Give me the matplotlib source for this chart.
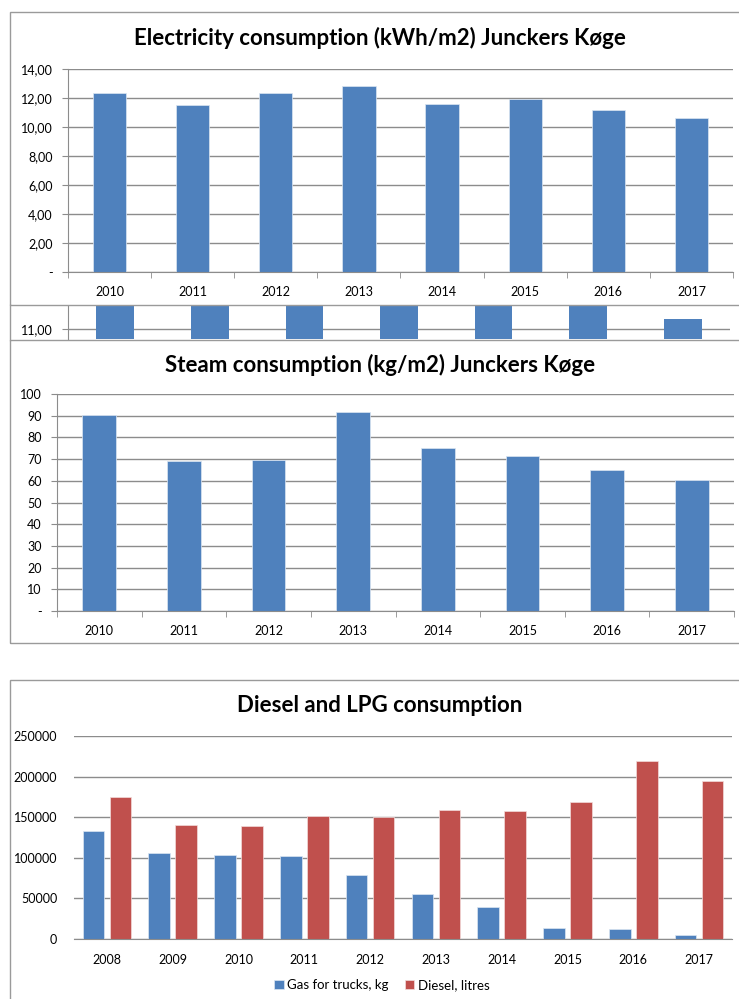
import numpy as np
import matplotlib.pyplot as plt
from matplotlib.patches import Rectangle

plt.rcParams['font.family'] = ['Lato', 'DejaVu Sans']

W, H = 739, 999

# electricity (kWh/m2)
el_years = ["2010", "2011", "2012", "2013", "2014", "2015", "2016", "2017"]
el_values = [12.32, 11.50, 12.32, 12.80, 11.59, 11.93, 11.15, 10.62]

# partly hidden chart behind (only the 11,00 line is visible)
hid_values = [12.30, 11.50, 12.30, 12.80, 11.60, 11.90, 11.10]

# steam (kg/m2)
st_years = ["2010", "2011", "2012", "2013", "2014", "2015", "2016", "2017"]
st_values = [90.3, 68.9, 69.8, 91.8, 75.3, 71.3, 65.2, 60.5]

# diesel and LPG
dl_years = ["2008", "2009", "2010", "2011", "2012", "2013", "2014", "2015", "2016", "2017"]
gas_kg = [133500, 105500, 103500, 102500, 79000, 55700, 39700, 13900, 11800, 4900]
diesel_l = [175000, 140600, 139300, 151300, 150800, 159000, 157800, 169200, 219600, 195000]

blue = "#4f81bd"
red = "#c0504d"
grid = "#8c8c8c"
frame = "#9a9a9a"
fs = 9


def box(left, top, right, bottom):
    return [left / W, 1 - bottom / H, (right - left) / W, (bottom - top) / H]


fig = plt.figure(figsize=(W / 100, H / 100), dpi=100)

# chart frames
for top, bottom in [(12, 305), (340, 643), (680, 1010)]:
    fig.patches.append(Rectangle((10 / W, 1 - bottom / H), 1.0, (bottom - top) / H,
                                 transform=fig.transFigure, fill=False,
                                 edgecolor=frame, linewidth=1.0))
fig.add_artist(plt.Line2D([10 / W, 10 / W], [1 - 305 / H, 1 - 340 / H],
                          transform=fig.transFigure, color=frame, linewidth=1.0))


def style_axes(ax, ylabels_pad):
    for s in ["top", "right"]:
        ax.spines[s].set_visible(False)
    ax.spines["left"].set_color(grid)
    ax.spines["bottom"].set_color(grid)
    ax.yaxis.grid(True, color=grid, linewidth=1.0)
    ax.set_axisbelow(True)
    ax.tick_params(axis="y", colors="black", labelsize=fs, length=4, color=grid, pad=ylabels_pad)
    ax.tick_params(axis="x", labelsize=fs, length=0, pad=8)


# electricity chart
ax1 = fig.add_axes(box(68, 69, 733, 272))
x = np.arange(len(el_years))
ax1.bar(x, el_values, width=0.4, color=blue, edgecolor="#dce6f2", linewidth=0.5)
ax1.set_xlim(-0.5, len(el_years) - 0.5)
ax1.set_ylim(0, 14)
ax1.set_yticks(np.arange(0, 15, 2))
ax1.set_yticklabels(["-"] + ["%d,00" % v for v in range(2, 15, 2)])
style_axes(ax1, 7)
ax1.set_xticks(x)
ax1.set_xticklabels(el_years)
ax1.set_xticks(np.arange(-0.5, len(el_years)), minor=True)
ax1.tick_params(axis="x", which="minor", length=4, color=grid)
ax1.tick_params(axis="x", which="major", pad=10)
fig.text(380 / W, 1 - 38 / H, "Electricity consumption (kWh/m2) Junckers Køge",
         ha="center", va="center", fontsize=16, fontweight="bold")

# hidden chart strip
ax0 = fig.add_axes(box(68, 306, 730, 339))
xh = np.arange(len(hid_values))
ax0.bar(xh, hid_values, width=0.4, color=blue)
ax0.set_xlim(-0.5, len(hid_values) - 0.5)
ax0.set_ylim(11 - 10 / 100, 11 + 23 / 100)
ax0.set_yticks([11])
ax0.set_yticklabels(["11,00"])
style_axes(ax0, 7)
ax0.spines["bottom"].set_visible(False)
ax0.set_xticks([])

# steam chart
ax2 = fig.add_axes(box(57, 394, 734, 611))
x = np.arange(len(st_years))
ax2.bar(x, st_values, width=0.4, color=blue, edgecolor="#dce6f2", linewidth=0.5)
ax2.set_xlim(-0.5, len(st_years) - 0.5)
ax2.set_ylim(0, 100)
ax2.set_yticks(np.arange(0, 101, 10))
ax2.set_yticklabels(["-"] + [str(v) for v in range(10, 101, 10)])
style_axes(ax2, 7)
ax2.set_xticks(x)
ax2.set_xticklabels(st_years)
ax2.set_xticks(np.arange(-0.5, len(st_years)), minor=True)
ax2.tick_params(axis="x", which="minor", length=4, color=grid)
ax2.tick_params(axis="x", which="major", pad=10)
fig.text(380 / W, 1 - 365 / H, "Steam consumption (kg/m2) Junckers Køge",
         ha="center", va="center", fontsize=16, fontweight="bold")

# diesel and LPG chart
ax3 = fig.add_axes(box(74, 736, 732, 939))
x = np.arange(len(dl_years))
ax3.bar(x - 0.205, gas_kg, width=0.33, color=blue, edgecolor="#dce6f2", linewidth=0.5,
        label="Gas for trucks, kg")
ax3.bar(x + 0.205, diesel_l, width=0.33, color=red, edgecolor="#f2dcdb", linewidth=0.5,
        label="Diesel, litres")
ax3.set_xlim(-0.5, len(dl_years) - 0.5)
ax3.set_ylim(0, 250000)
ax3.set_yticks(np.arange(0, 250001, 50000))
style_axes(ax3, 12)
ax3.spines["left"].set_visible(False)
ax3.tick_params(axis="y", length=0)
ax3.set_xticks(x)
ax3.set_xticklabels(dl_years)
ax3.tick_params(axis="x", pad=11)
fig.text(380 / W, 1 - 705 / H, "Diesel and LPG consumption",
         ha="center", va="center", fontsize=16, fontweight="bold")
fig.legend(loc="center", bbox_to_anchor=(382 / W, 1 - 985 / H), ncol=2, frameon=False,
           fontsize=9.5, handlelength=0.7, handleheight=0.7, handletextpad=0.3,
           columnspacing=1.2)

fig.savefig("out.png", dpi=100)
